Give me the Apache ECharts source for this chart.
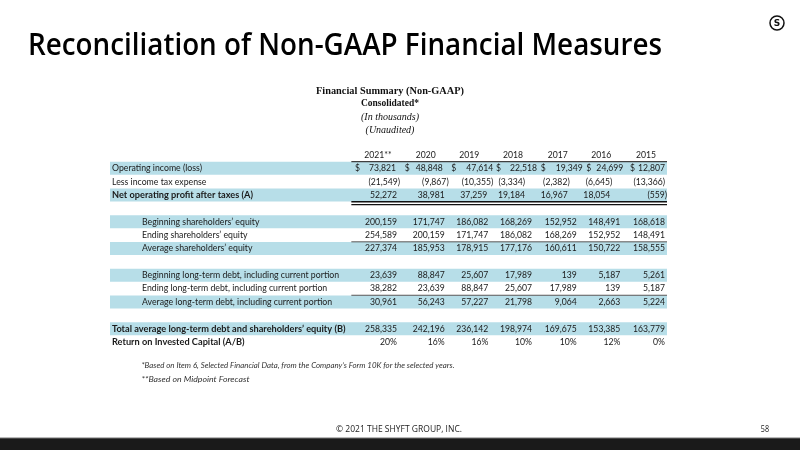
<!DOCTYPE html>
<html><head><meta charset="utf-8">
<script src="https://cdn.jsdelivr.net/npm/echarts@6/dist/echarts.min.js"></script>
<style>html,body{margin:0;background:#fff}#c{width:800px;height:450px}</style>
</head><body><div id="c"></div>
<script>
// ---------------- DATA ----------------
const years = ['2021**', '2020', '2019', '2018', '2017', '2016', '2015'];
const rowLabels = [
  'Operating income (loss)',
  'Less income tax expense',
  'Net operating profit after taxes (A)',
  'Beginning shareholders\u2019 equity',
  'Ending shareholders\u2019 equity',
  'Average shareholders\u2019 equity',
  'Beginning long-term debt, including current portion',
  'Ending long-term debt, including current portion',
  'Average long-term debt, including current portion',
  'Total average long-term debt and shareholders\u2019 equity (B)',
  'Return on Invested Capital (A/B)'
];
const operatingIncome   = [73821, 48848, 47614, 22518, 19349, 24699, 12807];
const incomeTaxExpense  = [-21549, -9867, -10355, -3334, -2382, -6645, -13366];
const nopat             = [52272, 38981, 37259, 19184, 16967, 18054, -559];
const begEquity         = [200159, 171747, 186082, 168269, 152952, 148491, 168618];
const endEquity         = [254589, 200159, 171747, 186082, 168269, 152952, 148491];
const avgEquity         = [227374, 185953, 178915, 177176, 160611, 150722, 158555];
const begDebt           = [23639, 88847, 25607, 17989, 139, 5187, 5261];
const endDebt           = [38282, 23639, 88847, 25607, 17989, 139, 5187];
const avgDebt           = [30961, 56243, 57227, 21798, 9064, 2663, 5224];
const totalCapital      = [258335, 242196, 236142, 198974, 169675, 153385, 163779];
const roicPct           = [20, 16, 16, 10, 10, 12, 0];
const tableRows = [operatingIncome, incomeTaxExpense, nopat, begEquity, endEquity, avgEquity,
                   begDebt, endDebt, avgDebt, totalCapital, roicPct];

const titleText = 'Reconciliation of Non-GAAP Financial Measures';
const subTitles = ['Financial Summary (Non-GAAP)', 'Consolidated*', '(In thousands)', '(Unaudited)'];
const footnotes = ['*Based on Item 6, Selected Financial Data, from the Company\u2019s Form 10K for the selected years.',
                   '**Based on Midpoint Forecast'];
const footerText = '\u00A9 2021 THE SHYFT GROUP, INC.';
const pageNo = '58';

// ---------------- LAYOUT ----------------
const rowPos = [1, 2, 3, 5, 6, 7, 9, 10, 11, 13, 14];
const rowBold = [false, false, true, false, false, false, false, false, false, true, true];
const rowIndent = [false, false, false, true, true, true, true, true, true, false, false];
const bandRows = [1, 3, 5, 7, 9, 11, 13];
const colNudge = [0, 3, 2, 1, 1, 0, 0];
const cellNudge = {0: [-1, -2, 5, 5, 6, 3, 0], 1: [3, 4, 5, -7, -7, -8, 0], 2: [0, 0, -1, -7, -9, -10, 2]};
const dollarDx = [-42, -40, -37, -36, -36, -34, -35];
const XMIN = -6.425, XMAX = 6.044;
const BLUE = '#b7dee8', TXT = '#1a1a1a';

const cv = document.createElement('canvas').getContext('2d');
function measure(t, f) { cv.font = f; return cv.measureText(t).width; }
const F_REG = '9px Lato', F_BOLD = 'bold 9px Lato';
const sReg = 90 / measure('Operating income (loss)', F_REG);
const sBold = 141 / measure('Net operating profit after taxes (A)', F_BOLD);
const sNum = 32 / measure('168,269', F_REG);

function fmt(v) {
  const s = Math.abs(v).toLocaleString('en-US');
  return v < 0 ? '(' + s + ')' : s;
}

const cells = [];
years.forEach((y, c) => cells.push({col: c, row: 0, text: y, dx: colNudge[c] - 19, align: 'center', font: F_REG, scale: sNum}));
tableRows.forEach((vals, r) => {
  cells.push({col: XMIN, row: rowPos[r], text: rowLabels[r], dx: rowIndent[r] ? 32 : 2, align: 'left',
              font: rowBold[r] ? F_BOLD : F_REG, scale: rowBold[r] ? sBold : sReg});
  vals.forEach((v, c) => {
    const txt = (vals === roicPct) ? v + '%' : fmt(v);
    const dx = colNudge[c] + ((cellNudge[r] || [])[c] || 0);
    cells.push({col: c, row: rowPos[r], text: txt, dx: dx, align: 'right', font: F_REG, scale: sNum});
    if (r === 0) cells.push({col: c, row: rowPos[r], text: '$', dx: colNudge[c] + dollarDx[c], align: 'left', font: F_REG, scale: sNum});
  });
});

// lines: [rowBoundary, color, width]
const rules = [[0.5, '#404040', 1.4], [3.5, '#111', 1.3], [3.72, '#111', 1.3], [6.5, '#555', 1], [10.5, '#555', 1]];

const chart = echarts.init(document.getElementById('c'));

function fitScale(t, f, w) { return w / measure(t, f); }
const titleFont = '600 31px "Open Sans"';
const subFonts = ['bold 11px "Liberation Serif"', 'bold 9.5px "Liberation Serif"', 'italic 10px "Liberation Serif"', 'italic 10px "Liberation Serif"'];
const subY = [91, 104, 117, 130];
const fnFont = 'italic 7.5px Lato';
const ftFont = '8.5px "Open Sans"';

const graphics = [
  {type: 'text', x: 28, y: 46, scaleX: fitScale(titleText, titleFont, 634),
   style: {text: titleText, font: titleFont, fill: '#000', align: 'left', verticalAlign: 'middle'}},
  {type: 'circle', shape: {cx: 777, cy: 23, r: 7}, style: {fill: '#fff', stroke: '#111', lineWidth: 1.5}},
  {type: 'text', x: 777, y: 23.5, style: {text: 'S', font: 'bold 9px "DejaVu Sans"', fill: '#111', align: 'center', verticalAlign: 'middle'}},
  {type: 'text', x: 141.5, y: 366, scaleX: fitScale(footnotes[0], fnFont, 313),
   style: {text: footnotes[0], font: fnFont, fill: '#333', align: 'left', verticalAlign: 'middle'}},
  {type: 'text', x: 141.5, y: 380, scaleX: fitScale(footnotes[1], fnFont, 108),
   style: {text: footnotes[1], font: fnFont, fill: '#333', align: 'left', verticalAlign: 'middle'}},
  {type: 'text', x: 399, y: 430, scaleX: fitScale(footerText, ftFont, 126),
   style: {text: footerText, font: ftFont, fill: '#222', align: 'center', verticalAlign: 'middle'}},
  {type: 'text', x: 765, y: 430, scaleX: 0.85, style: {text: pageNo, font: ftFont, fill: '#222', align: 'center', verticalAlign: 'middle'}},
  {type: 'rect', shape: {x: 0, y: 438, width: 800, height: 12}, style: {fill: '#1a1a1a'}},
  {type: 'rect', shape: {x: 0, y: 437.5, width: 800, height: 1}, style: {fill: '#777'}}
];
subTitles.forEach((t, i) => {
  const target = [148, 58, 0, 0][i];
  graphics.push({type: 'text', x: 390, y: subY[i], scaleX: target ? fitScale(t, subFonts[i], target) : 1,
    style: {text: t, font: subFonts[i], fill: '#111', align: 'center', verticalAlign: 'middle'}});
});

chart.setOption({
  animation: false,
  grid: {left: 110, right: 133, top: 148.3, bottom: 101.3},
  xAxis: {type: 'value', min: XMIN, max: XMAX, show: false},
  yAxis: {type: 'value', min: -0.5, max: 14.5, inverse: true, show: false},
  graphic: graphics,
  series: [
    {type: 'custom', silent: true, data: bandRows.map(r => [0, r]),
     renderItem: (p, api) => {
       const a = api.coord([XMIN, api.value(1) - 0.485]);
       const b = api.coord([XMAX, api.value(1) + 0.485]);
       return {type: 'rect', shape: {x: a[0], y: a[1], width: b[0] - a[0], height: b[1] - a[1]}, style: {fill: BLUE}};
     }},
    {type: 'custom', silent: true, data: rules.map(r => [0, r[0]]),
     renderItem: (p, api) => {
       const r = rules[p.dataIndex];
       const a = api.coord([-1, r[0]]);
       const b = api.coord([XMAX, r[0]]);
       return {type: 'line', shape: {x1: a[0] - 1, y1: a[1], x2: b[0], y2: a[1]}, style: {stroke: r[1], lineWidth: r[2]}};
     }},
    {type: 'custom', silent: true, data: cells.map(c => [c.col, c.row]),
     renderItem: (p, api) => {
       const c = cells[p.dataIndex];
       const q = api.coord([c.col, c.row]);
       return {type: 'text', x: q[0] + c.dx, y: q[1], scaleX: c.scale,
               style: {text: c.text, x: 0, y: 0, align: c.align, verticalAlign: 'middle', font: c.font, fill: TXT}};
     }}
  ]
});
</script>
</body></html>
